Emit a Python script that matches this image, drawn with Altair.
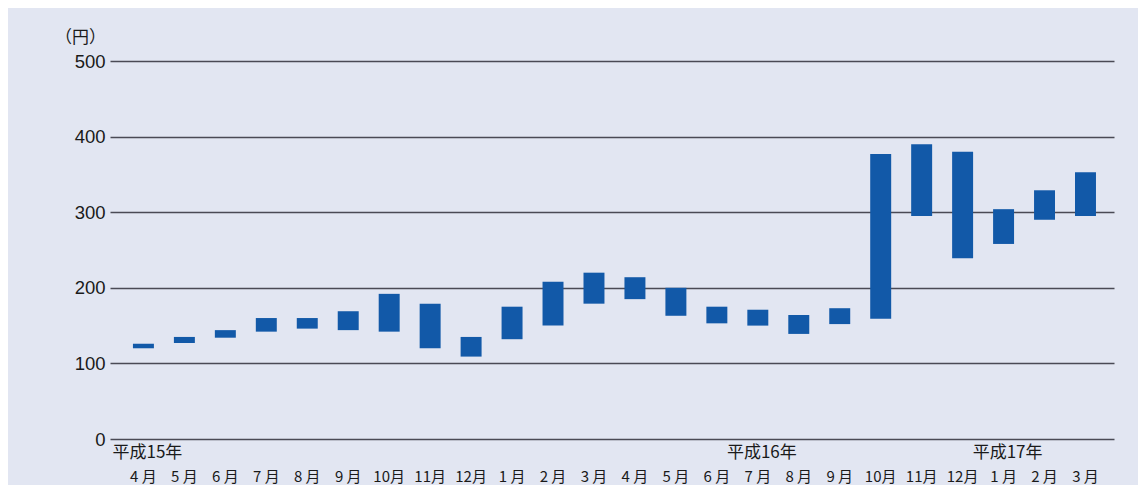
import altair as alt
import pandas as pd

months = ["4 月", "5 月", "6 月", "7 月", "8 月", "9 月", "10月", "11月", "12月",
          "1 月", "2 月", "3 月", "4 月", "5 月", "6 月", "7 月", "8 月", "9 月",
          "10月", "11月", "12月", "1 月", "2 月", "3 月"]
low = [120, 127, 134, 142, 146, 144, 142, 120, 109, 132, 150, 179,
       185, 163, 153, 150, 139, 152, 159, 295, 239, 258, 290, 295]
high = [126, 135, 144, 160, 160, 169, 192, 179, 135, 175, 208, 220,
        214, 200, 175, 171, 164, 173, 377, 390, 380, 304, 329, 353]
year_idx = [0, 15, 21]
year_text = ["平成15年", "平成16年", "平成17年"]

df = pd.DataFrame({"idx": list(range(len(months))), "low": low, "high": high})
years = pd.DataFrame({"idx": year_idx, "label": year_text})

def q(s):
    return "'" + s + "'"

label_arr = "[" + ",".join(q(m) for m in months) + "]"

xscale = alt.Scale(paddingInner=0.488, paddingOuter=0.5, align=0.56,
                   domain=list(range(len(months))))

bars = alt.Chart(df).mark_bar(color="#1259a8").encode(
    x=alt.X("idx:O", title=None, scale=xscale,
            axis=alt.Axis(labelExpr=label_arr + "[datum.value]", labelAngle=0,
                          labelFont="Noto Sans CJK JP", labelFontSize=15,
                          labelBaseline="top", labelPadding=30,
                          labelColor="#1a1a1a", labelOverlap=False,
                          ticks=False, domain=False, grid=False)),
    y=alt.Y("low:Q", title="（円）",
            scale=alt.Scale(domain=[0, 500], nice=False),
            axis=alt.Axis(values=[0, 100, 200, 300, 400, 500], ticks=False, domain=False,
                          grid=True, gridColor="#4a4a55", gridWidth=1.3,
                          labelFont="Liberation Sans", labelFontSize=18.5,
                          labelColor="#1a1a1a", labelPadding=5,
                          titleAngle=0, titleX=-30, titleY=-24, titleAlign="center",
                          titleBaseline="middle", titleFont="Noto Sans CJK JP",
                          titleFontSize=17, titleFontWeight="normal",
                          titleColor="#1a1a1a")),
    y2="high:Q",
)

year_marks = alt.Chart(years).mark_text(
    font="Noto Sans CJK JP", fontSize=17, color="#1a1a1a",
    baseline="top", align="center", dx=4, dy=6,
).encode(
    x=alt.X("idx:O", scale=xscale),
    y=alt.datum(0),
    text="label:N",
)

chart = alt.layer(bars, year_marks).properties(
    width=1004, height=378,
    autosize=alt.AutoSizeParams(type="none"),
    padding={"left": 102, "top": 53, "right": 24, "bottom": 46},
    background="#e2e6f2",
).configure_view(stroke=None)

chart.save("out.html", embed_options={"renderer": "svg", "actions": False})
